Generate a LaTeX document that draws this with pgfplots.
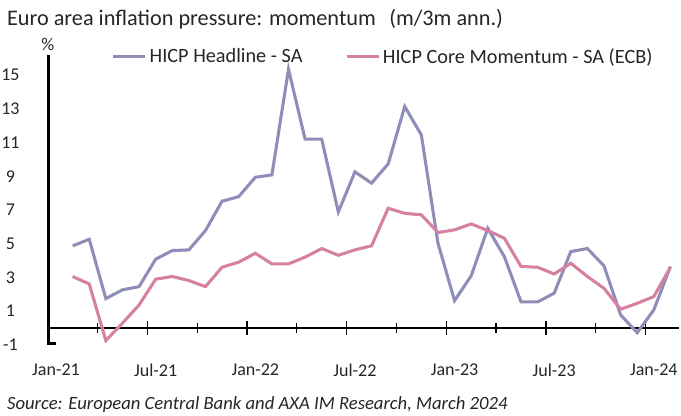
\documentclass[border=0pt]{standalone}
\usepackage{fontspec}
\setmainfont{Carlito}
\usepackage{pgfplots}
\pgfplotsset{compat=1.18}

\definecolor{headline}{RGB}{142,142,184}
\definecolor{core}{RGB}{214,128,162}

% months counted from Jan-21 = 0; data run Feb-21 (1) to Feb-24 (37)
\pgfplotstableread{
m  head   core
1  4.87   3.05
2  5.26   2.61
3  1.74  -0.75
4  2.26   0.28
5  2.45   1.36
6  4.08   2.89
7  4.59   3.05
8  4.63   2.81
9  5.78   2.45
10 7.52   3.60
11 7.79   3.90
12 8.94   4.43
13 9.08   3.80
14 15.35  3.80
15 11.20  4.20
16 11.20  4.71
17 6.88   4.31
18 9.26   4.63
19 8.59   4.87
20 9.73   7.10
21 13.14  6.80
22 11.45  6.71
23 5.03   5.66
24 1.62   5.82
25 3.09   6.17
26 5.91   5.78
27 4.23   5.32
28 1.55   3.65
29 1.54   3.60
30 2.06   3.20
31 4.53   3.84
32 4.71   3.05
33 3.68   2.35
34 0.77   1.11
35 -0.28  1.46
36 1.07   1.86
37 3.64   3.60
}\momentum

\begin{document}
\begin{tikzpicture}
\useasboundingbox (-35.8pt,-53.4pt) rectangle (475pt,258.6pt);
\begin{axis}[
  name=ax, at={(0,0)}, anchor=south west,
  scale only axis, width=473.3pt, height=217.4pt,
  xmin=-0.5, xmax=37.5, ymin=-1, ymax=16.2,
  axis x line*=middle, axis y line*=left,
  axis line style={black, line width=1pt},
  xtick={5.5,11.5,...,35.5}, xticklabels={},
  minor xtick={2.5,8.5,...,32.5},
  major tick length=10pt, minor tick length=7pt,
  tick align=center,
  xtick style={black, line width=1pt},
  extra x ticks={0,6,...,36},
  extra x tick labels={Jan-21,Jul-21,Jan-22,Jul-22,Jan-23,Jul-23,Jan-24},
  extra x tick style={major tick length=0pt,
    xticklabel style={anchor=center, yshift=-31.5pt}},
  ytick={-1,1,...,15},
  ytick style={line width=0pt, opacity=0},
  yticklabel style={anchor=center, xshift=-23pt},
  tick label style={font=\fontsize{13.5}{14}\selectfont, text=black!85},
  /pgf/number format/assume math mode=true,
  clip=false,
  legend columns=2,
  legend style={at={(axis description cs:0.095,0.993)}, anchor=west,
    draw=none, fill=none, font=\fontsize{15.2}{16}\selectfont, text=black!85,
    /tikz/every even column/.append style={column sep=30pt}},
  legend image code/.code={\draw[#1] (0pt,0pt) -- (24pt,0pt);},
]
\addplot[headline, line width=2.3pt] table[x=m, y=head] {\momentum};
\addlegendentry{HICP Headline - SA}
\addplot[core, line width=2.3pt] table[x=m, y=core] {\momentum};
\addlegendentry{HICP Core Momentum - SA (ECB)}
\end{axis}
\draw[black, line width=2.4pt] (0.6pt,217.4pt) -- (0.6pt,1pt) -- (6.5pt,1pt);
\node[anchor=west, font=\fontsize{16.7}{18}\selectfont, text=black!85] at (-34pt,244.5pt)
  {Euro area inflation pressure: momentum\hspace{0.6em}(m/3m ann.)};
\node[font=\fontsize{13.5}{14}\selectfont, text=black!85] at (0pt,225.5pt) {\%};
\node[anchor=west, font=\fontsize{14}{15}\itshape, text=black!85] at (-34pt,-45pt)
  {Source: European Central Bank and AXA IM Research, March 2024};
\end{tikzpicture}
\end{document}
